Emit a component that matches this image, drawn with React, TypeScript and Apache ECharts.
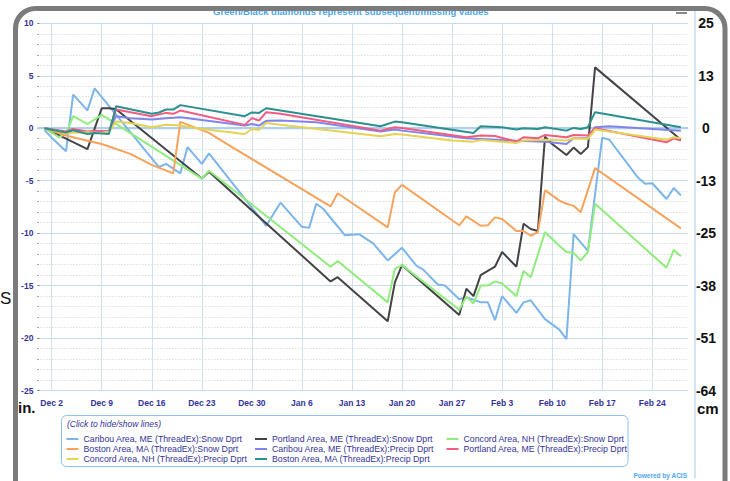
import React, { useEffect, useRef } from 'react';
import * as echarts from 'echarts';

// Category days: Nov 30 (index 0) .. Feb 29 (index 91)
const monthSpans: [string, number, number][] = [
  ['Nov', 30, 30],
  ['Dec', 1, 31],
  ['Jan', 1, 31],
  ['Feb', 1, 29],
];
const dayCategories: string[] = [];
monthSpans.forEach(([m, a, b]) => {
  for (let d = a; d <= b; d++) dayCategories.push(`${m} ${d}`);
});

const weekLabels = ['Dec 2', 'Dec 9', 'Dec 16', 'Dec 23', 'Dec 30', 'Jan 6', 'Jan 13', 'Jan 20', 'Jan 27', 'Feb 3', 'Feb 10', 'Feb 17', 'Feb 24'];
const leftTicks = { min: -25, max: 10, step: 5 };

// values: [day index from Nov 30, inches]
const caribouSnow: [number, number][] = [
  [1, -0.2], [2, -0.9], [4, -2.2], [5, 3.2], [7, 1.7], [8, 3.8], [17, -3.7], [18, -3.4], [20, -4.3], [21, -1.8],
  [23, -3.4], [24, -2.4], [32, -9.3], [34, -7.1], [37, -9.4], [38, -9.5], [39, -7.2], [40, -7.7], [43, -10.2],
  [45, -10.1], [47, -11.0], [49, -12.6], [51, -11.4], [53, -13.1], [54, -13.5], [56, -14.9], [57, -15.0],
  [59, -16.3], [60, -16.1], [62, -16.6], [63, -16.6], [64, -18.3], [65, -16.0], [67, -17.6], [68, -16.6],
  [69, -16.4], [71, -18.2], [73, -19.2], [74, -20.1], [75, -10.1], [77, -11.7], [79, -0.9], [80, -1.1],
  [84, -4.7], [85, -5.3], [86, -5.25], [88, -6.75], [89, -5.7], [90, -6.4],
];
const portlandSnow: [number, number][] = [
  [1, 0], [7, -2.0], [9, 1.9], [10, 1.9], [11, 1.8], [23, -4.8], [24, -4.15], [41, -14.6], [42, -14.2], [49, -18.4],
  [50, -14.7], [51, -13.05], [59, -17.8], [60, -15.3], [61, -16.0], [62, -14.0], [64, -13.2], [65, -11.8],
  [67, -13.2], [68, -9.1], [69, -9.6], [70, -9.8], [71, -0.8], [72, -1.5], [74, -2.55], [75, -1.85], [76, -2.45],
  [77, -1.8], [78, 5.8], [90, -1.1],
];
const concordSnow: [number, number][] = [
  [1, 0], [3, -0.85], [4, -0.55], [5, 1.15], [7, 0.4], [9, 1.27], [23, -4.8], [24, -4.05], [41, -13.2],
  [42, -12.65], [49, -16.6], [50, -13.4], [51, -13.05], [59, -17.3], [60, -16.05], [61, -16.7], [62, -15.0],
  [63, -15.0], [64, -14.6], [65, -14.8], [67, -16.0], [68, -13.6], [69, -14.2], [71, -9.9], [73, -11.2],
  [74, -11.8], [75, -11.9], [76, -12.6], [77, -11.8], [78, -7.2], [88, -13.3], [89, -11.6], [90, -12.2],
];
const bostonSnow: [number, number][] = [
  [1, 0], [4, -0.7], [7, -1.2], [9, -1.5], [13, -2.45], [16, -3.5], [19, -4.3], [20, 0.6], [24, -0.45], [27, -1.7],
  [41, -7.45], [42, -6.2], [49, -9.45], [50, -6.1], [51, -5.4], [59, -9.25], [60, -8.4], [62, -9.3], [63, -9.25],
  [64, -8.5], [65, -8.65], [67, -9.8], [68, -9.8], [69, -10.25], [70, -9.9], [71, -5.9], [73, -6.9], [74, -7.2],
  [75, -7.4], [76, -8.0], [78, -3.8], [90, -9.55],
];
const caribouPrecip: [number, number][] = [
  [1, 0], [4, -0.38], [5, -0.13], [7, -0.45], [9, -0.32], [10, -0.23], [11, 1.15], [13, 0.96], [16, 0.82],
  [18, 0.96], [20, 1.05], [29, 0.25], [30, 0.41], [31, 0.25], [32, 0.7], [34, 0.73], [39, 0.57], [48, -0.32],
  [50, -0.13], [51, -0.23], [60, -0.96], [62, -1.02], [67, -1.2], [71, -1.28], [74, -1.5], [75, -0.96],
  [77, -0.96], [78, 0.1], [80, 0.19], [90, -0.23],
];
const portlandPrecip: [number, number][] = [
  [1, 0], [4, -0.32], [5, -0.07], [7, -0.32], [8, -0.23], [10, -0.32], [11, 1.78], [16, 1.15], [18, 1.46],
  [19, 1.37], [20, 1.68], [29, 0.32], [30, 0.96], [31, 0.73], [32, 1.53], [34, 1.37], [48, -0.23], [50, 0.1],
  [51, 0.03], [60, -0.86], [62, -0.7], [64, -0.75], [67, -1.28], [68, -0.86], [70, -0.96], [71, -0.64],
  [74, -0.86], [75, -0.64], [77, -0.7], [78, 0], [88, -1.34], [89, -0.96], [90, -1.18],
];
const concordPrecip: [number, number][] = [
  [1, 0], [4, -0.45], [7, -0.38], [9, -0.45], [10, -0.32], [11, 0.63], [13, 0.5], [16, 0.1], [18, 0.32],
  [20, 0.25], [23, -0.07], [29, -0.55], [30, -0.07], [31, -0.16], [32, 0.5], [34, 0.32], [48, -0.76],
  [50, -0.55], [51, -0.61], [58, -1.18], [61, -1.28], [62, -1.12], [67, -1.4], [68, -1.18], [71, -1.09],
  [74, -1.18], [75, -0.96], [77, -1.02], [78, -0.13], [88, -1.09], [89, -0.86], [90, -0.96],
];
const bostonPrecip: [number, number][] = [
  [1, 0], [4, -0.4], [5, -0.2], [7, -0.55], [8, -0.45], [10, -0.55], [11, 2.1], [16, 1.37], [17, 1.5], [18, 1.78],
  [19, 1.78], [20, 2.2], [29, 1.15], [30, 1.5], [31, 1.46], [32, 1.9], [48, 0.19], [50, 0.63], [51, 0.57],
  [61, -0.45], [62, 0.19], [65, 0.1], [67, -0.13], [68, 0], [70, -0.07], [71, 0.1], [74, -0.23], [75, 0.03],
  [76, -0.07], [77, 0.1], [78, 1.53], [90, 0.1],
];
const zeroLine: [number, number][] = [[0, 0], [91, 0]];

const seriesNames = [
  'Caribou Area, ME (ThreadEx):Snow Dprt',
  'Portland Area, ME (ThreadEx):Snow Dprt',
  'Concord Area, NH (ThreadEx):Snow Dprt',
  'Boston Area, MA (ThreadEx):Snow Dprt',
  'Caribou Area, ME (ThreadEx):Precip Dprt',
  'Portland Area, ME (ThreadEx):Precip Dprt',
  'Concord Area, NH (ThreadEx):Precip Dprt',
  'Boston Area, MA (ThreadEx):Precip Dprt',
];
const seriesData = [caribouSnow, portlandSnow, concordSnow, bostonSnow, caribouPrecip, portlandPrecip, concordPrecip, bostonPrecip];
const seriesColors = ['#7cb5ec', '#434348', '#90ed7d', '#f7a35c', '#8085e9', '#f15c80', '#e4d354', '#2b908f'];

const navy = '#333399';
const sans = '"Liberation Sans", Arial, sans-serif';
const narrow = '"Liberation Sans Narrow", "Liberation Sans", Arial';

export default function App() {
  const ref = useRef<HTMLDivElement>(null);
  useEffect(() => {
    if (!ref.current) return;
    const chart = echarts.init(ref.current, null, { renderer: 'svg' });
    const weekSet = new Set(weekLabels);
    const isWeek = (_i: number, v: string) => weekSet.has(v);
    const cm = (v: number) => {
      const c = Math.round(Math.abs(v) * 2.54);
      return (v < 0 ? '-' : '') + c;
    };
    const legendCommon = {
      orient: 'vertical',
      top: 434,
      icon: 'rect',
      itemWidth: 12,
      itemHeight: 2,
      itemGap: 0,
      padding: 0,
      textStyle: { color: navy, fontSize: 8.75, fontFamily: sans, lineHeight: 10 },
      inactiveColor: '#ccc',
    };
    const option: any = {
      animation: false,
      backgroundColor: '#ffffff',
      grid: { left: 37.4, right: 42, top: 23.3, bottom: 90.5, containLabel: false },
      xAxis: {
        type: 'category',
        data: dayCategories,
        boundaryGap: false,
        axisLine: { show: true, lineStyle: { color: '#c0d6ee', width: 1 } },
        axisTick: { show: true, interval: isWeek, length: 3, lineStyle: { color: '#c0d6ee' } },
        axisLabel: { interval: isWeek, color: navy, fontSize: 8.5, fontWeight: 'bold', fontFamily: sans, margin: 8 },
        splitLine: { show: true, interval: isWeek, lineStyle: { color: '#cfe0f3', width: 1 } },
      },
      yAxis: [
        {
          type: 'value',
          min: leftTicks.min,
          max: leftTicks.max,
          interval: leftTicks.step,
          axisLine: { show: false },
          axisTick: { show: true, inside: true, length: 2, lineStyle: { color: '#777' } },
          minorTick: { show: true, splitNumber: 5, length: 1.5, lineStyle: { color: '#999' } },
          minorSplitLine: { show: true, lineStyle: { color: '#cfcfcf', type: [1, 2], width: 1 } },
          splitLine: { show: true, lineStyle: { color: '#c6dbf0', width: 1 } },
          axisLabel: { color: navy, fontSize: 8.5, fontWeight: 'bold', fontFamily: sans, margin: 4 },
        },
        {
          type: 'value',
          min: leftTicks.min,
          max: leftTicks.max,
          interval: leftTicks.step,
          position: 'right',
          offset: 7,
          axisLine: { show: false },
          axisTick: { show: false },
          splitLine: { show: false },
          axisLabel: {
            formatter: cm,
            color: '#111',
            fontSize: 14,
            fontWeight: 'bold',
            fontFamily: narrow,
            align: 'center',
            margin: 11,
          },
        },
      ],
      legend: [
        { ...legendCommon, left: 66.5, data: [seriesNames[0], seriesNames[3], seriesNames[6]] },
        { ...legendCommon, left: 255, data: [seriesNames[1], seriesNames[4], seriesNames[7]] },
        { ...legendCommon, left: 446.5, data: [seriesNames[2], seriesNames[5]] },
      ],
      series: [
        {
          name: 'zero',
          type: 'line',
          data: zeroLine,
          symbol: 'none',
          silent: true,
          lineStyle: { color: '#aecfed', width: 2.2 },
          z: 1,
        },
        ...seriesNames.map((name, i) => ({
          name,
          type: 'line',
          data: seriesData[i],
          symbol: 'none',
          lineStyle: { color: seriesColors[i], width: 2 },
          itemStyle: { color: seriesColors[i] },
          z: 2 + i,
        })),
      ],
      graphic: [
        {
          type: 'text', x: 213, y: 11, z: 50,
          style: { text: 'Green/Black diamonds represent subsequent/missing values', fill: '#4fa6ee', font: `bold 9.5px ${sans}`, textVerticalAlign: 'middle', verticalAlign: 'middle' },
        },
        {
          type: 'line', z: 50,
          shape: { x1: 695, y1: 10, x2: 695, y2: 478 },
          style: { stroke: '#a8c9ea', lineWidth: 1 },
        },
        {
          type: 'line', z: 50,
          shape: { x1: 676, y1: 13, x2: 687, y2: 13 },
          style: { stroke: '#888', lineWidth: 2 },
        },
        {
          type: 'rect', z: 50,
          shape: { x: 61.5, y: 415.5, width: 566.5, height: 51, r: 5 },
          style: { fill: 'none', stroke: '#8fc0ee', lineWidth: 1 },
        },
        {
          type: 'text', x: 67, y: 424, z: 50,
          style: { text: '(Click to hide/show lines)', fill: navy, font: `italic 8.5px ${sans}`, textVerticalAlign: 'middle', verticalAlign: 'middle' },
        },
        {
          type: 'text', x: 18, y: 407, z: 50,
          style: { text: 'in.', fill: '#111', font: `bold 15px ${narrow}`, textVerticalAlign: 'middle', verticalAlign: 'middle' },
        },
        {
          type: 'text', x: 697, y: 408, z: 50,
          style: { text: 'cm', fill: '#111', font: `bold 15px ${narrow}`, textVerticalAlign: 'middle', verticalAlign: 'middle' },
        },
        {
          type: 'text', x: 0, y: 298, z: 50,
          style: { text: 'S', fill: '#111', font: `17px ${sans}`, textVerticalAlign: 'middle', verticalAlign: 'middle' },
        },
        {
          type: 'text', x: 687, y: 475, z: 50,
          style: { text: 'Powered by ACIS', fill: '#4fa6ee', font: `bold 6.5px ${sans}`, textAlign: 'right', align: 'right', textVerticalAlign: 'middle', verticalAlign: 'middle' },
        },
        {
          type: 'rect', z: 100,
          shape: { x: 15.5, y: 8.5, width: 709.5, height: 520, r: 20 },
          style: { fill: 'none', stroke: '#7b7b7b', lineWidth: 5 },
        },
      ],
    };
    chart.setOption(option);
    return () => chart.dispose();
  }, []);
  return <div ref={ref} style={{ position: 'absolute', left: 0, top: 0, width: 730, height: 481 }} />;
}
